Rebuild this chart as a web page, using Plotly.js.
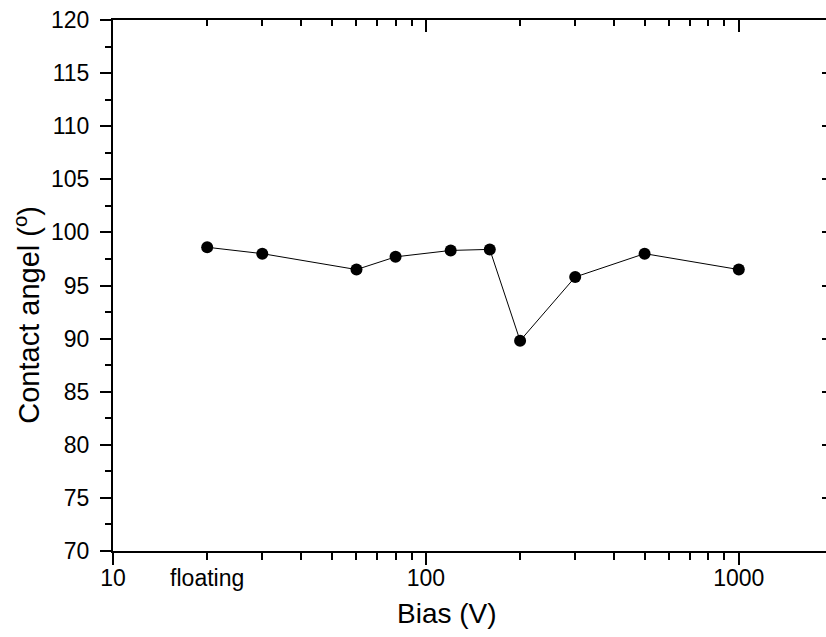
<!DOCTYPE html>
<html>
<head>
<meta charset="utf-8">
<script src="https://cdn.plot.ly/plotly-3.0.1.min.js"></script>
<style>
html, body { margin:0; padding:0; overflow:hidden; background:#fff; }
#chart { width:834px; height:637px; }
</style>
</head>
<body>
<div id="chart"></div>
<script>
// Data
const bias = [20, 30, 60, 80, 120, 160, 200, 300, 500, 1000]; // 20 = "floating"
const angle = [98.6, 98.0, 96.5, 97.7, 98.3, 98.4, 89.8, 95.8, 98.0, 96.5];

const xMajorTicks = [10, 100, 1000];
const xLabelTicks = [10, 20, 100, 1000];
const xLabels = ['10', 'floating', '100', '1000'];
const xMinorTicks = [20, 30, 40, 50, 60, 70, 80, 90, 200, 300, 400, 500, 600, 700, 800, 900];
const xRange = [10, 2000];
const yRange = [70, 120];

const FONT = 'Liberation Sans, Arial, sans-serif';
const xr = [Math.log10(xRange[0]), Math.log10(xRange[1])];

const trace = {
  x: bias, y: angle, type: 'scatter', mode: 'lines+markers',
  line: {color: '#000', width: 1},
  marker: {color: '#000', size: 12, symbol: 'circle'},
  xaxis: 'x', yaxis: 'y', showlegend: false, hoverinfo: 'x+y'
};
// invisible carrier traces so the mirror / label axes are drawn
const ghostTop = {x: bias, y: angle, type: 'scatter', mode: 'markers',
  marker: {opacity: 0}, xaxis: 'x2', yaxis: 'y2', showlegend: false, hoverinfo: 'skip'};
const ghostLabels = {x: bias, y: angle, type: 'scatter', mode: 'markers',
  marker: {opacity: 0}, xaxis: 'x3', yaxis: 'y', showlegend: false, hoverinfo: 'skip'};

const layout = {
  width: 834, height: 637,
  margin: {l: 113, r: 1, t: 20, b: 86},
  paper_bgcolor: '#fff', plot_bgcolor: '#fff',
  font: {family: FONT, color: '#000', size: 23},
  showlegend: false,
  xaxis: {
    type: 'log', range: xr, autorange: false,
    showline: true, linecolor: '#000', linewidth: 2, mirror: false,
    showgrid: false, zeroline: false, showticklabels: false,
    tickmode: 'array', tickvals: xMajorTicks,
    ticks: 'outside', ticklen: 12, tickwidth: 2, tickcolor: '#000',
    minor: {tickmode: 'array', tickvals: xMinorTicks, ticks: 'outside', ticklen: 7, tickwidth: 2, tickcolor: '#000', showgrid: false}
  },
  xaxis2: {
    type: 'log', range: xr, autorange: false, overlaying: 'x', side: 'top', anchor: 'y2',
    showline: true, linecolor: '#000', linewidth: 2,
    showgrid: false, zeroline: false, showticklabels: false,
    tickmode: 'array', tickvals: xMajorTicks,
    ticks: 'inside', ticklen: 12, tickwidth: 2, tickcolor: '#000',
    minor: {tickmode: 'array', tickvals: xMinorTicks, ticks: 'inside', ticklen: 6, tickwidth: 2, tickcolor: '#000', showgrid: false}
  },
  xaxis3: {
    type: 'log', range: xr, autorange: false, overlaying: 'x', side: 'bottom', anchor: 'y',
    showline: false, showgrid: false, zeroline: false,
    tickmode: 'array', tickvals: xLabelTicks, ticktext: xLabels,
    ticks: 'outside', ticklen: 6, tickcolor: 'rgba(0,0,0,0)', tickwidth: 1,
    tickfont: {family: FONT, size: 23, color: '#000'}
  },
  yaxis: {
    range: yRange, autorange: false,
    showline: true, linecolor: '#000', linewidth: 2, mirror: false,
    showgrid: false, zeroline: false,
    tickmode: 'linear', tick0: 70, dtick: 5,
    ticks: 'outside', ticklen: 11, tickwidth: 2, tickcolor: '#000',
    ticklabelstandoff: 6,
    tickfont: {family: FONT, size: 23, color: '#000'},
    minor: {tickmode: 'linear', tick0: 72.5, dtick: 5, ticks: 'outside', ticklen: 6, tickwidth: 2, tickcolor: '#000', showgrid: false}
  },
  yaxis2: {
    range: yRange, autorange: false, overlaying: 'y', side: 'right', anchor: 'x2',
    showline: true, linecolor: '#000', linewidth: 2,
    showgrid: false, zeroline: false, showticklabels: false,
    tickmode: 'linear', tick0: 70, dtick: 5,
    ticks: 'inside', ticklen: 11, tickwidth: 2, tickcolor: '#000',
    minor: {tickmode: 'linear', tick0: 72.5, dtick: 5, ticks: 'inside', ticklen: 6, tickwidth: 2, tickcolor: '#000', showgrid: false}
  },
  annotations: [
    {text: 'Bias (V)', xref: 'paper', yref: 'paper', x: 0.464, y: -0.1186,
     xanchor: 'center', yanchor: 'middle', showarrow: false,
     font: {family: FONT, size: 28, color: '#000'}},
    {text: 'Contact angel (<sup>o</sup>)', xref: 'paper', yref: 'paper', x: -0.1194, y: 0.445,
     xanchor: 'center', yanchor: 'middle', textangle: -90, showarrow: false,
     font: {family: FONT, size: 29, color: '#000'}}
  ]
};

Plotly.newPlot('chart', [ghostTop, ghostLabels, trace], layout, {staticPlot: true, displayModeBar: false});
</script>
</body>
</html>
